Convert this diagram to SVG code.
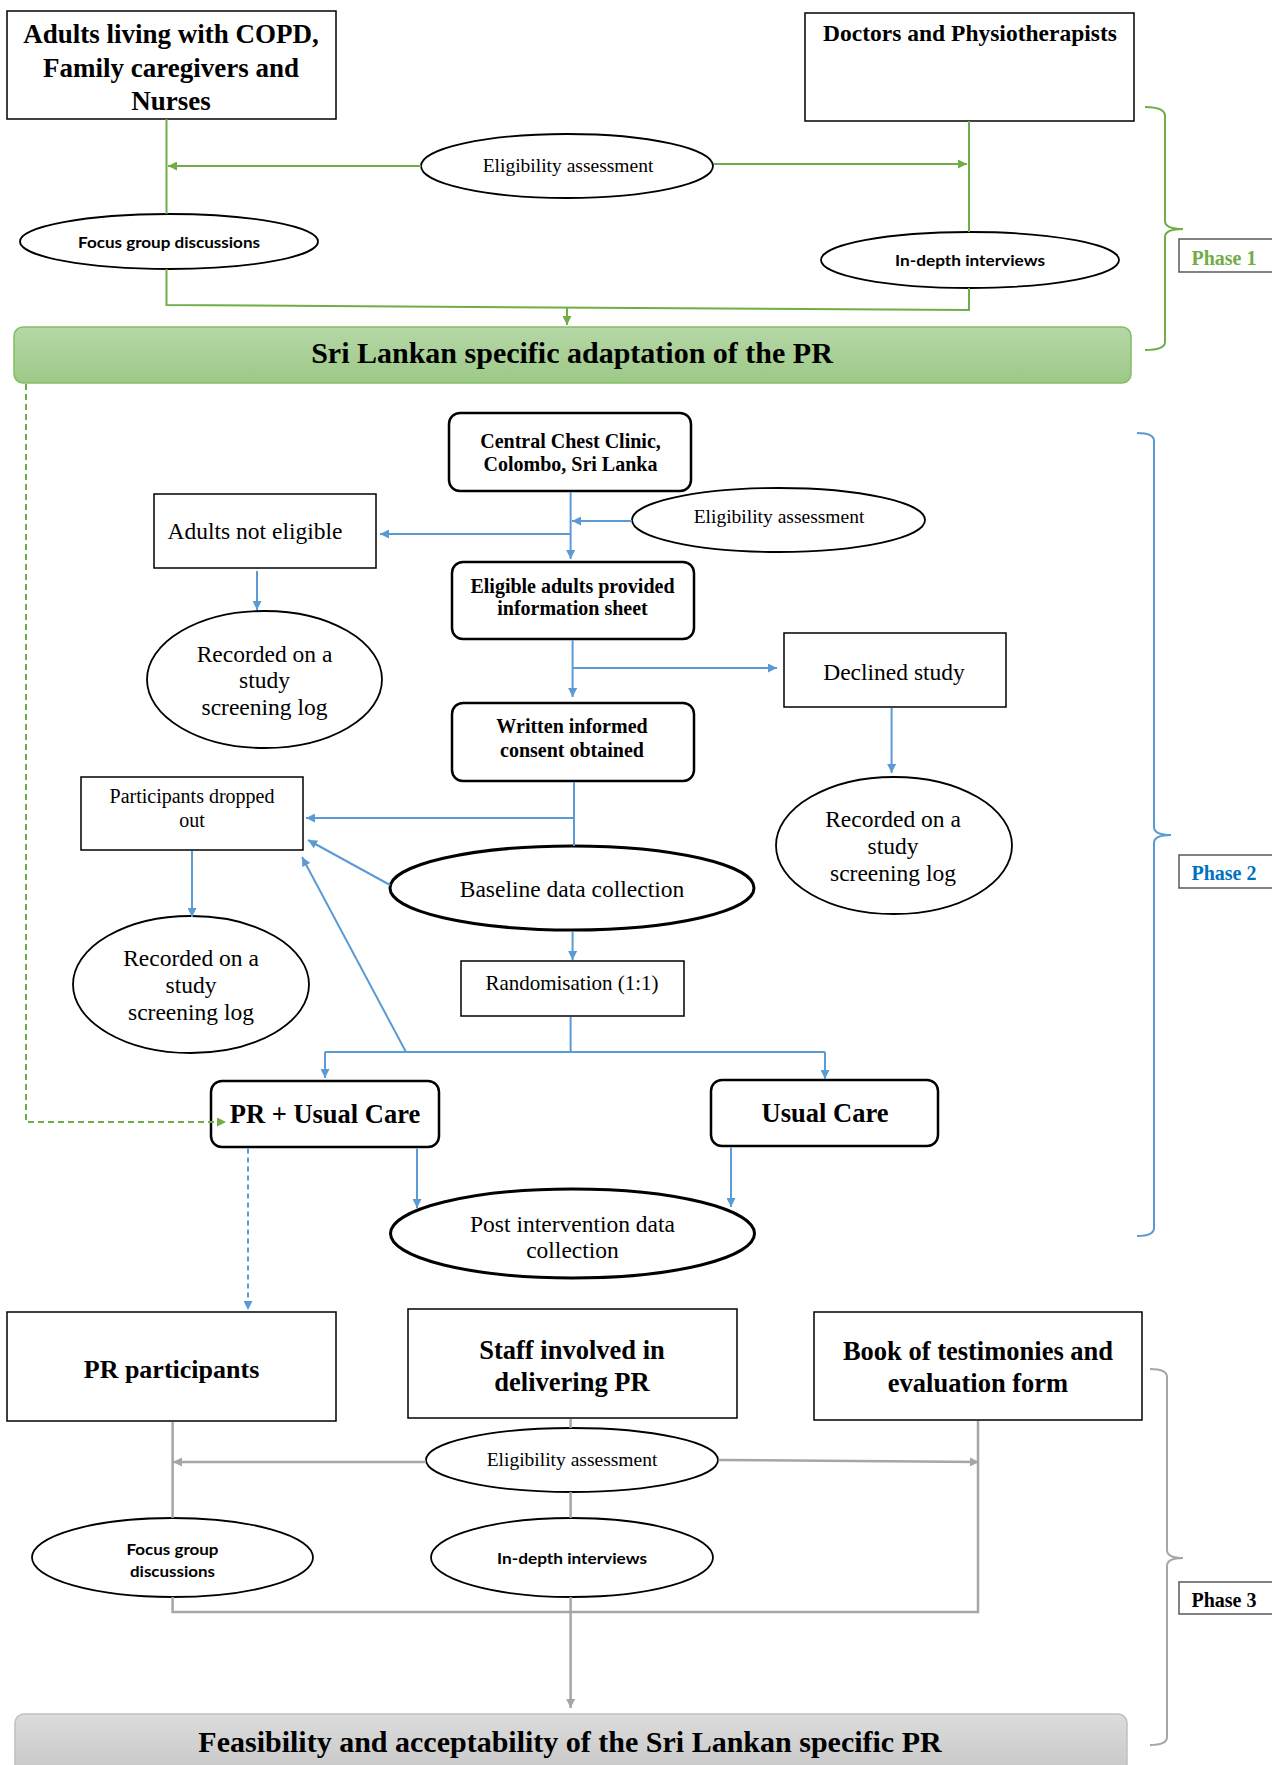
<svg xmlns="http://www.w3.org/2000/svg" width="1272" height="1765" viewBox="0 0 1272 1765">
<defs>
<linearGradient id="gGreen" x1="0" y1="0" x2="0" y2="1"><stop offset="0" stop-color="#b6d7a6"/><stop offset="1" stop-color="#9cc987"/></linearGradient>
<linearGradient id="gGray" x1="0" y1="0" x2="0" y2="1"><stop offset="0" stop-color="#dcdcdc"/><stop offset="1" stop-color="#c4c4c4"/></linearGradient>
<marker id="aG" viewBox="0 0 10 10" refX="10" refY="5" markerWidth="10" markerHeight="9" markerUnits="userSpaceOnUse" orient="auto"><path d="M0,0 L10,5 L0,10 z" fill="#70ad47"/></marker>
<marker id="aB" viewBox="0 0 10 10" refX="10" refY="5" markerWidth="10" markerHeight="9" markerUnits="userSpaceOnUse" orient="auto"><path d="M0,0 L10,5 L0,10 z" fill="#5b9bd5"/></marker>
<marker id="aY" viewBox="0 0 10 10" refX="10" refY="5" markerWidth="10" markerHeight="9" markerUnits="userSpaceOnUse" orient="auto"><path d="M0,0 L10,5 L0,10 z" fill="#a6a6a6"/></marker>
</defs>
<style>
.t{font-family:"Liberation Serif","Times New Roman",serif;fill:#000;text-anchor:middle}
.b{font-weight:bold}
.c{font-family:Lato,"Open Sans",sans-serif;font-weight:bold;fill:#000;text-anchor:middle}
.box{fill:#fff;stroke:#000;stroke-width:1.5}
.rbox{fill:#fff;stroke:#000;stroke-width:2.5}
.el{fill:#fff;stroke:#000;stroke-width:1.8}
.elT{fill:#fff;stroke:#000;stroke-width:3}
.gl{fill:none;stroke:#70ad47;stroke-width:2}
.bl{fill:none;stroke:#5b9bd5;stroke-width:2}
.yl{fill:none;stroke:#a6a6a6;stroke-width:2.5}
.ph{fill:#fff;stroke:#595959;stroke-width:1.5}
</style>

<!-- Phase 1 -->
<g id="n-adults-copd"><rect class="box" x="7" y="11" width="329" height="108"/>
<text class="t b" font-size="27" x="171" y="43">Adults living with COPD,</text>
<text class="t b" font-size="27" x="171" y="77">Family caregivers and</text>
<text class="t b" font-size="27" x="171" y="110">Nurses</text></g>
<g id="n-doctors"><rect class="box" x="805" y="13" width="329" height="108" stroke="#404040"/>
<text class="t b" font-size="23.5" x="970" y="41">Doctors and Physiotherapists</text></g>
<g id="n-elig1"><ellipse class="el" cx="567" cy="166" rx="146" ry="32"/>
<text class="t" font-size="19.5" x="568" y="172">Eligibility assessment</text></g>
<g id="n-focus1"><ellipse class="el" cx="169" cy="241.5" rx="149" ry="27.5"/>
<text class="c" font-size="16" x="169" y="248" textLength="182" lengthAdjust="spacingAndGlyphs">Focus group discussions</text></g>
<g id="n-indepth1"><ellipse class="el" cx="970" cy="260" rx="149" ry="28"/>
<text class="c" font-size="16" x="970" y="265.5" textLength="150" lengthAdjust="spacingAndGlyphs">In-depth interviews</text></g>
<g id="n-adaptation"><rect x="14" y="327" width="1117" height="56" rx="9" fill="url(#gGreen)" stroke="#86bd63" stroke-width="1.5"/>
<text class="t b" font-size="30" x="572" y="363">Sri Lankan specific adaptation of the PR</text></g>
<g id="n-phase1"><path d="M1145,107 Q1165,107 1165,116 L1165,221 Q1165,229 1183,229 Q1165,229 1165,237 L1165,342 Q1165,350 1145,350" fill="none" stroke="#70ad47" stroke-width="2"/>
<rect class="ph" x="1179" y="239" width="100" height="33"/>
<text class="t b" font-size="20" x="1224" y="265" style="fill:#70ad47">Phase 1</text></g>

<!-- Phase 2 -->
<g id="n-clinic"><rect class="rbox" x="449" y="413" width="242" height="78" rx="11"/>
<text class="t b" font-size="20" x="570.5" y="448">Central Chest Clinic,</text>
<text class="t b" font-size="20" x="570.5" y="471">Colombo, Sri Lanka</text></g>
<g id="n-elig2"><ellipse class="el" cx="778.5" cy="520" rx="146.5" ry="32"/>
<text class="t" font-size="19.5" x="779" y="523">Eligibility assessment</text></g>
<g id="n-noteligible"><rect class="box" x="154" y="494" width="222" height="74"/>
<text class="t" font-size="23.5" x="255" y="539">Adults not eligible</text></g>
<g id="n-rec1"><ellipse class="el" cx="264.5" cy="679.5" rx="117.5" ry="68.5" stroke-width="1.5"/>
<text class="t" font-size="23.5" x="264.5" y="662">Recorded on a</text>
<text class="t" font-size="23.5" x="264.5" y="688">study</text>
<text class="t" font-size="23.5" x="264.5" y="715">screening log</text></g>
<g id="n-eligible"><rect class="rbox" x="452" y="562" width="242" height="77" rx="11"/>
<text class="t b" font-size="20" x="572.5" y="593">Eligible adults provided</text>
<text class="t b" font-size="20" x="572.5" y="615">information sheet</text></g>
<g id="n-declined"><rect class="box" x="784" y="633" width="222" height="74"/>
<text class="t" font-size="23.5" x="894" y="680">Declined study</text></g>
<g id="n-rec2"><ellipse class="el" cx="894" cy="845.5" rx="118" ry="68.5" stroke-width="1.5"/>
<text class="t" font-size="23.5" x="893" y="827">Recorded on a</text>
<text class="t" font-size="23.5" x="893" y="854">study</text>
<text class="t" font-size="23.5" x="893" y="881">screening log</text></g>
<g id="n-consent"><rect class="rbox" x="452" y="703" width="242" height="78" rx="11"/>
<text class="t b" font-size="20" x="572" y="733">Written informed</text>
<text class="t b" font-size="20" x="572" y="757">consent obtained</text></g>
<g id="n-dropped"><rect class="box" x="81" y="777" width="222" height="73"/>
<text class="t" font-size="20" x="192" y="803">Participants dropped</text>
<text class="t" font-size="20" x="192" y="827">out</text></g>
<g id="n-rec3"><ellipse class="el" cx="191" cy="984.5" rx="118" ry="68.5" stroke-width="1.5"/>
<text class="t" font-size="23.5" x="191" y="966">Recorded on a</text>
<text class="t" font-size="23.5" x="191" y="993">study</text>
<text class="t" font-size="23.5" x="191" y="1020">screening log</text></g>
<g id="n-baseline"><ellipse class="elT" cx="572" cy="888" rx="182" ry="42"/>
<text class="t" font-size="23.5" x="572" y="897">Baseline data collection</text></g>
<g id="n-random"><rect class="box" x="461" y="961" width="223" height="55"/>
<text class="t" font-size="21" x="572" y="990">Randomisation (1:1)</text></g>
<g id="n-pr"><rect class="rbox" x="211" y="1081" width="228" height="66" rx="11"/>
<text class="t b" font-size="26.5" x="325" y="1123">PR + Usual Care</text></g>
<g id="n-usual"><rect class="rbox" x="711" y="1080" width="227" height="66" rx="11"/>
<text class="t b" font-size="26.5" x="825" y="1122">Usual Care</text></g>
<g id="n-post"><ellipse class="elT" cx="572.5" cy="1233.5" rx="182" ry="44.5"/>
<text class="t" font-size="23.5" x="572.5" y="1232">Post intervention data</text>
<text class="t" font-size="23.5" x="572.5" y="1258">collection</text></g>
<g id="n-phase2"><path d="M1137,433 Q1154,433 1154,441 L1154,827 Q1154,835 1171,835 Q1154,835 1154,843 L1154,1228 Q1154,1236 1137,1236" fill="none" stroke="#5b9bd5" stroke-width="2"/>
<rect class="ph" x="1179" y="855" width="100" height="33"/>
<text class="t b" font-size="20" x="1224" y="880" style="fill:#0070c0">Phase 2</text></g>

<!-- Phase 3 -->
<g id="n-prpart"><rect class="box" x="7" y="1312" width="329" height="109" stroke="#404040"/>
<text class="t b" font-size="26" x="171.5" y="1378">PR participants</text></g>
<g id="n-staff"><rect class="box" x="408" y="1309" width="329" height="109" stroke="#404040"/>
<text class="t b" font-size="26.5" x="572" y="1359">Staff involved in</text>
<text class="t b" font-size="26.5" x="572" y="1391">delivering PR</text></g>
<g id="n-book"><rect class="box" x="814" y="1312" width="328" height="108" stroke="#404040"/>
<text class="t b" font-size="26.5" x="978" y="1360">Book of testimonies and</text>
<text class="t b" font-size="26.5" x="978" y="1392">evaluation form</text></g>
<g id="n-elig3"><ellipse class="el" cx="572" cy="1460" rx="146" ry="32"/>
<text class="t" font-size="19.5" x="572" y="1466">Eligibility assessment</text></g>
<g id="n-focus2"><ellipse class="el" cx="172.5" cy="1557.5" rx="140.5" ry="39.5"/>
<text class="c" font-size="16" x="172.5" y="1555" textLength="92" lengthAdjust="spacingAndGlyphs">Focus group</text>
<text class="c" font-size="16" x="172.5" y="1577" textLength="85" lengthAdjust="spacingAndGlyphs">discussions</text></g>
<g id="n-indepth2"><ellipse class="el" cx="572" cy="1557.5" rx="141" ry="39.5"/>
<text class="c" font-size="16" x="572" y="1564" textLength="150" lengthAdjust="spacingAndGlyphs">In-depth interviews</text></g>
<g id="n-feasibility"><rect x="15" y="1714" width="1112" height="70" rx="9" fill="url(#gGray)" stroke="#c0c0c0" stroke-width="1.5"/>
<text class="t b" font-size="30" x="570" y="1752">Feasibility and acceptability of the Sri Lankan specific PR</text></g>
<g id="n-phase3"><path d="M1150,1369 Q1167,1369 1167,1377 L1167,1550 Q1167,1558 1183,1558 Q1167,1558 1167,1566 L1167,1737 Q1167,1745 1150,1745" fill="none" stroke="#a6a6a6" stroke-width="2"/>
<rect class="ph" x="1179" y="1582" width="100" height="32"/>
<text class="t b" font-size="20" x="1224" y="1607">Phase 3</text></g>

<g id="connectors">
<!-- phase 1 green -->
<line class="gl" x1="166.5" y1="119" x2="166.5" y2="214"/>
<line class="gl" x1="421" y1="166" x2="168" y2="166" marker-end="url(#aG)"/>
<line class="gl" x1="714" y1="164" x2="967" y2="164" marker-end="url(#aG)"/>
<line class="gl" x1="969" y1="121" x2="969" y2="232"/>
<polyline class="gl" points="166.5,269 166.5,305 969,310 969,288"/>
<line class="gl" x1="567" y1="307" x2="567" y2="325" marker-end="url(#aG)"/>
<polyline class="gl" points="26,384 26,1122 226,1122" stroke-dasharray="6,4" stroke-width="1.5" marker-end="url(#aG)"/>
<!-- phase 2 blue -->
<line class="bl" x1="570.6" y1="492" x2="570.6" y2="559" marker-end="url(#aB)"/>
<line class="bl" x1="632" y1="521" x2="572" y2="521" marker-end="url(#aB)"/>
<line class="bl" x1="571" y1="534" x2="380" y2="534" marker-end="url(#aB)"/>
<line class="bl" x1="257" y1="571" x2="257" y2="610" stroke-width="1.5" marker-end="url(#aB)"/>
<line class="bl" x1="572.6" y1="640" x2="572.6" y2="697" marker-end="url(#aB)"/>
<line class="bl" x1="572.6" y1="668" x2="777" y2="668" marker-end="url(#aB)"/>
<line class="bl" x1="891.6" y1="708" x2="891.6" y2="773" stroke-width="1.5" marker-end="url(#aB)"/>
<line class="bl" x1="574" y1="782" x2="574" y2="846"/>
<line class="bl" x1="574" y1="818" x2="306" y2="818" marker-end="url(#aB)"/>
<line class="bl" x1="192" y1="851" x2="192" y2="917" stroke-width="1.5" marker-end="url(#aB)"/>
<line class="bl" x1="390" y1="885" x2="308" y2="840" stroke-width="1" marker-end="url(#aB)"/>
<line class="bl" x1="572.6" y1="932" x2="572.6" y2="960" marker-end="url(#aB)"/>
<line class="bl" x1="570.6" y1="1017" x2="570.6" y2="1052"/>
<line class="bl" x1="325" y1="1052" x2="825" y2="1052" stroke-width="2.5"/>
<line class="bl" x1="325" y1="1052" x2="325" y2="1078" marker-end="url(#aB)"/>
<line class="bl" x1="825" y1="1052" x2="825" y2="1079" marker-end="url(#aB)"/>
<line class="bl" x1="406" y1="1052" x2="302" y2="857" stroke-width="1.5" marker-end="url(#aB)"/>
<line class="bl" x1="417" y1="1148.5" x2="417" y2="1208" marker-end="url(#aB)"/>
<line class="bl" x1="731" y1="1147.5" x2="731" y2="1207" marker-end="url(#aB)"/>
<line class="bl" x1="248" y1="1148.5" x2="248" y2="1310" stroke-width="1.5" stroke-dasharray="5,4" marker-end="url(#aB)"/>
<!-- phase 3 gray -->
<line class="yl" x1="172.6" y1="1422" x2="172.6" y2="1518"/>
<polyline class="yl" points="172.6,1597 172.6,1612 978,1612 978,1421"/>
<line class="yl" x1="570.6" y1="1419" x2="570.6" y2="1428"/>
<line class="yl" x1="570.6" y1="1492" x2="570.6" y2="1518"/>
<line class="yl" x1="570.6" y1="1597" x2="570.6" y2="1708" marker-end="url(#aY)"/>
<line class="yl" x1="426" y1="1462" x2="173" y2="1462" stroke-width="2" marker-end="url(#aY)"/>
<line class="yl" x1="718.5" y1="1460" x2="979" y2="1462" stroke-width="2" marker-end="url(#aY)"/>
</g>
</svg>
